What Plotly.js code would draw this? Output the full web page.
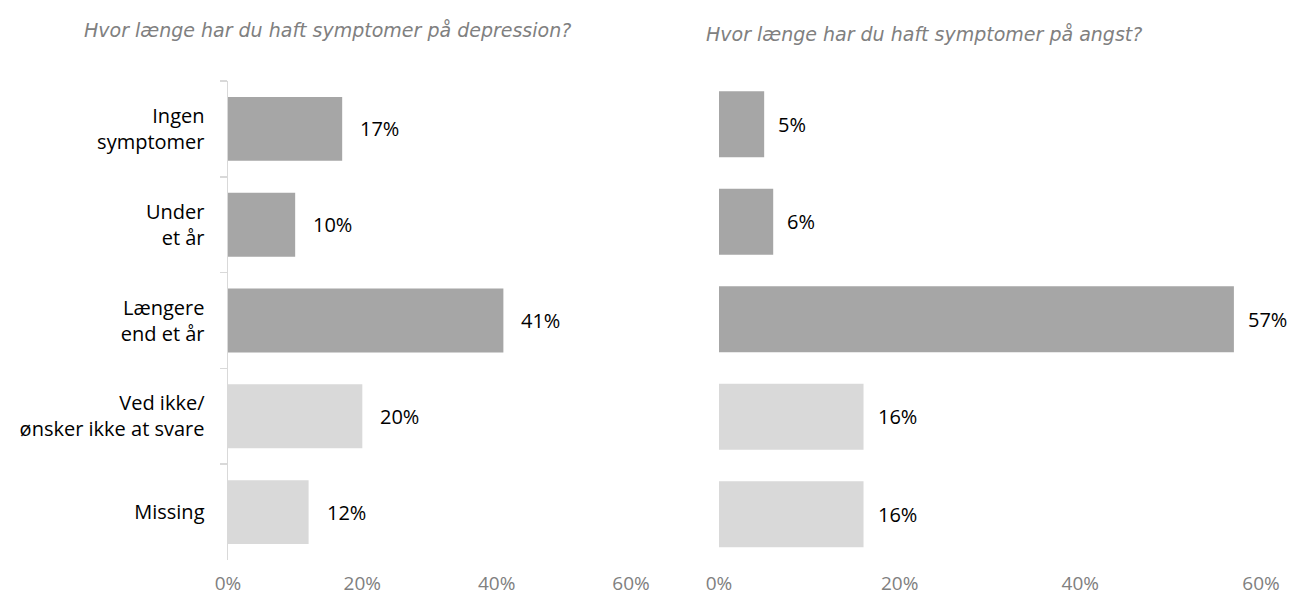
<!DOCTYPE html>
<html>
<head>
<meta charset="utf-8">
<script src="https://cdn.plot.ly/plotly-3.0.1.min.js"></script>
<style>html,body{margin:0;padding:0;background:#fff;}#chart{width:1290px;height:601px;}</style>
</head>
<body>
<div id="chart"></div>
<script>
const categories = ["Ingen<br>symptomer", "Under<br>et år", "Længere<br>end et år", "Ved ikke/<br>ønsker ikke at svare", "Missing"];
const depression = [17, 10, 41, 20, 12];
const angst = [5, 6, 57, 16, 16];
const titles = ["Hvor længe har du haft symptomer på depression?", "Hvor længe har du haft symptomer på angst?"];
const tickVals = [0, 20, 40, 60];
const tickText = ["0%", "20%", "40%", "60%"];

const dark = "#a6a6a6", light = "#d9d9d9";
const barColors = [dark, dark, dark, light, light];
const FONT = "'Open Sans', 'Noto Sans', sans-serif";
const TFONT = "'DejaVu Sans', sans-serif";

const traces = [
  {type: "bar", orientation: "h", x: depression, y: categories, xaxis: "x", yaxis: "y",
   marker: {color: barColors}, width: 0.667, hoverinfo: "skip"},
  {type: "bar", orientation: "h", x: angst, y: categories, xaxis: "x2", yaxis: "y2",
   marker: {color: barColors}, width: 0.677, hoverinfo: "skip"}
];

const annotations = [];
depression.forEach((v, i) => annotations.push({x: v, y: categories[i], xref: "x", yref: "y",
  text: v + "%", showarrow: false, xanchor: "left", xshift: 16, font: {size: 20, color: "#000", family: FONT}}));
angst.forEach((v, i) => annotations.push({x: v, y: categories[i], xref: "x2", yref: "y2",
  text: v + "%", showarrow: false, xanchor: "left", xshift: 12, font: {size: 20, color: "#000", family: FONT}}));
annotations.push({x: 82/1290, y: 1 - 30/601, xref: "paper", yref: "paper", xanchor: "left", yanchor: "middle",
  text: "<i>" + titles[0] + "</i>", showarrow: false, font: {size: 19, color: "#808080", family: TFONT}});
annotations.push({x: 704/1290, y: 1 - 34/601, xref: "paper", yref: "paper", xanchor: "left", yanchor: "middle",
  text: "<i>" + titles[1] + "</i>", showarrow: false, font: {size: 19, color: "#808080", family: TFONT}});

const xaxisBase = {range: [0, 60], tickvals: tickVals, ticktext: tickText, showgrid: false, zeroline: false,
  showline: false, ticks: "", ticklabelstandoff: 10, tickfont: {size: 19, color: "#808080", family: FONT}, fixedrange: true};

const layout = {
  width: 1290, height: 601,
  margin: {l: 0, r: 0, t: 0, b: 0},
  paper_bgcolor: "#fff", plot_bgcolor: "#fff",
  showlegend: false,
  font: {family: FONT},
  xaxis: Object.assign({}, xaxisBase, {domain: [228/1290, 631/1290], anchor: "y"}),
  xaxis2: Object.assign({}, xaxisBase, {domain: [719/1290, 1261/1290], anchor: "y2", ticklabelstandoff: 7}),
  yaxis: {domain: [1 - 560/601, 1 - 81/601], anchor: "x", autorange: "reversed", type: "category",
    showline: true, linecolor: "#d9d9d9", linewidth: 1.5, ticks: "outside", tickson: "boundaries",
    ticklen: 7, tickcolor: "#d9d9d9", tickwidth: 1.5, showgrid: false, zeroline: false,
    ticklabelstandoff: 18, tickfont: {size: 20, color: "#000", family: FONT}, fixedrange: true},
  yaxis2: {domain: [1 - 563/601, 1 - 75.5/601], anchor: "x2", autorange: "reversed", type: "category",
    showline: false, ticks: "", showticklabels: false, showgrid: false, zeroline: false, fixedrange: true},
  annotations: annotations
};

Plotly.newPlot("chart", traces, layout, {staticPlot: true, displayModeBar: false});
</script>
</body>
</html>
